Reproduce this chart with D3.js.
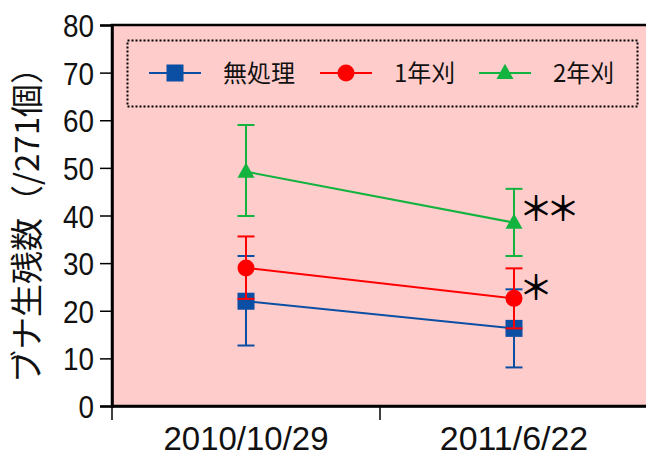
<!DOCTYPE html>
<html>
<head>
<meta charset="utf-8">
<script src="https://cdn.jsdelivr.net/npm/d3@7"></script>
<style>
  html, body { margin: 0; padding: 0; background: #fff; }
  svg { display: block; }
</style>
</head>
<body>
<svg id="chart" width="646" height="454"></svg>
<script>
// Survey dates (x categories)
const dates = ["2010/10/29", "2011/6/22"];
// Series names
const seriesNames = ["無処理", "1年刈", "2年刈"];
// Mean surviving beech seedlings per series
const meanNone = [22.0, 16.3];
const meanCut1 = [29.0, 22.6];
const meanCut2 = [49.2, 38.5];
// Error bar extents (upper / lower)
const upperNone = [31.5, 24.5];
const lowerNone = [12.7, 8.1];
const upperCut1 = [35.6, 28.9];
const lowerCut1 = [22.5, 16.3];
const upperCut2 = [59.0, 45.6];
const lowerCut2 = [39.9, 31.5];
// Significance marks at the second date
const signif = ["", "＊", "＊＊"];
// Y axis ticks
const yTicks = [0, 10, 20, 30, 40, 50, 60, 70, 80];

const colors = ["#0A4FA3", "#FF0000", "#12B33F"];
const shapes = ["square", "circle", "triangle"];

const series = seriesNames.map((name, i) => ({
  name,
  color: colors[i],
  shape: shapes[i],
  mean: [meanNone, meanCut1, meanCut2][i],
  upper: [upperNone, upperCut1, upperCut2][i],
  lower: [lowerNone, lowerCut1, lowerCut2][i],
  mark: signif[i]
}));

const svg = d3.select("#chart");
const plotL = 112, plotR = 648, plotT = 25, plotB = 406;

const x = d3.scaleBand().domain(dates).range([plotL, plotR]);
const y = d3.scaleLinear().domain([0, 80]).range([plotB, plotT]);

const numFont = "'Liberation Sans', Arial, sans-serif";
const jpFont = "'Noto Sans CJK JP', sans-serif";

// Plot background
svg.append("rect")
  .attr("x", plotL).attr("y", plotT)
  .attr("width", plotR - plotL).attr("height", plotB - plotT)
  .attr("fill", "#FFCCCC")
  .attr("stroke", "#000").attr("stroke-width", 2.5);

// Y axis (tall, narrow numerals)
const yAxis = svg.append("g")
  .attr("transform", `translate(${plotL},0)`)
  .call(d3.axisLeft(y).tickValues(yTicks).tickSize(12).tickPadding(6).tickFormat(d3.format("d")));
yAxis.select(".domain").attr("stroke-width", 2.5);
yAxis.selectAll(".tick line").attr("stroke-width", 1.5);
yAxis.selectAll("text")
  .attr("font-family", numFont)
  .attr("font-size", 32)
  .attr("dy", "0.36em")
  .attr("textLength", d => String(d).length * 15.5)
  .attr("lengthAdjust", "spacingAndGlyphs")
  .attr("fill", "#111");

// X axis
const xAxis = svg.append("g")
  .attr("transform", `translate(0,${plotB})`)
  .call(d3.axisBottom(x).tickSize(0).tickPadding(20));
xAxis.select(".domain").attr("stroke-width", 2.5);
xAxis.selectAll("text")
  .attr("font-family", numFont)
  .attr("font-size", 34)
  .attr("dy", "0.71em")
  .attr("textLength", d => d.length * 16.5)
  .attr("lengthAdjust", "spacingAndGlyphs")
  .attr("fill", "#111");
// Boundary ticks between categories
xAxis.selectAll(".bound")
  .data([plotL, plotL + x.bandwidth()])
  .join("line")
  .attr("x1", d => d).attr("x2", d => d)
  .attr("y1", 0).attr("y2", 14)
  .attr("stroke", "#000").attr("stroke-width", 1.5);

// Y axis title
svg.append("text")
  .attr("transform", `translate(39,217) rotate(-90)`)
  .attr("text-anchor", "middle")
  .attr("font-family", jpFont)
  .attr("font-size", 33)
  .attr("fill", "#111")
  .text("ブナ生残数（/271個）");

const cx = d => x(d) + x.bandwidth() / 2;

function drawMarker(g, shape, color, px, py, s) {
  if (shape === "square") {
    g.append("rect").attr("x", px - s / 2).attr("y", py - s / 2)
      .attr("width", s).attr("height", s).attr("fill", color);
  } else if (shape === "circle") {
    g.append("circle").attr("cx", px).attr("cy", py).attr("r", s / 2).attr("fill", color);
  } else {
    const h = s * 0.9;
    g.append("path")
      .attr("d", `M${px},${py - h * 0.6} L${px + s / 2},${py + h * 0.4} L${px - s / 2},${py + h * 0.4} Z`)
      .attr("fill", color);
  }
}

const line = d3.line().x((d, i) => cx(dates[i])).y(d => y(d));

series.forEach(s => {
  const g = svg.append("g");
  g.append("path").datum(s.mean).attr("d", line)
    .attr("fill", "none").attr("stroke", s.color).attr("stroke-width", 2);
  dates.forEach((d, i) => {
    const px = cx(d);
    g.append("line").attr("x1", px).attr("x2", px)
      .attr("y1", y(s.upper[i])).attr("y2", y(s.lower[i]))
      .attr("stroke", s.color).attr("stroke-width", 2);
    [s.upper[i], s.lower[i]].forEach(v => {
      g.append("line").attr("x1", px - 8.5).attr("x2", px + 8.5)
        .attr("y1", y(v)).attr("y2", y(v))
        .attr("stroke", s.color).attr("stroke-width", 2);
    });
    drawMarker(g, s.shape, s.color, px, y(s.mean[i]), 17);
  });
  if (s.mark) {
    // Significance mark beside the upper error cap
    svg.append("text")
      .attr("x", cx(dates[1]) + 5)
      .attr("y", y(s.upper[1]) + 32)
      .attr("font-family", jpFont)
      .attr("font-size", 34)
      .attr("font-weight", 500)
      .attr("letter-spacing", -7)
      .attr("fill", "#000")
      .text(s.mark);
  }
});

// Legend
const lg = svg.append("g");
lg.append("rect")
  .attr("x", 127.5).attr("y", 40.5).attr("width", 510).attr("height", 66)
  .attr("fill", "none").attr("stroke", "#000").attr("stroke-width", 2)
  .attr("stroke-dasharray", "2,2");
const legendX = [149, 320, 479];
series.forEach((s, i) => {
  const lx = legendX[i], ly = 73;
  lg.append("line").attr("x1", lx).attr("x2", lx + 52).attr("y1", ly).attr("y2", ly)
    .attr("stroke", s.color).attr("stroke-width", 2);
  drawMarker(lg, s.shape, s.color, lx + 26, ly, 17);
  lg.append("text")
    .attr("x", lx + 74).attr("y", ly + 8.5)
    .attr("font-family", jpFont)
    .attr("font-size", 24)
    .attr("fill", "#111")
    .text(s.name);
});
</script>
</body>
</html>
